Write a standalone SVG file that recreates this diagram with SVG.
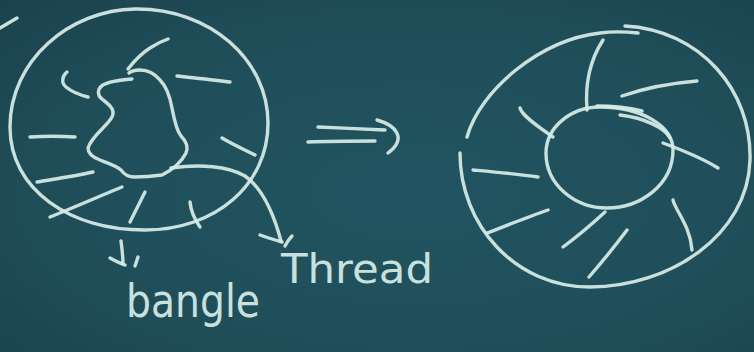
<svg xmlns="http://www.w3.org/2000/svg" width="754" height="352" viewBox="0 0 754 352">
<defs>
<radialGradient id="bg" cx="0.55" cy="0.55" r="0.8">
<stop offset="0" stop-color="#215461"/>
<stop offset="0.6" stop-color="#1f4e59"/>
<stop offset="1" stop-color="#1a414b"/>
</radialGradient>
<style>
.c{fill:none;stroke:#d6ece6;stroke-width:3.4;stroke-linecap:round;stroke-linejoin:round;opacity:0.93}
.t{fill:#d6ece6;font-family:"DejaVu Sans","Liberation Sans",sans-serif;opacity:0.93}
</style>
</defs>
<rect width="754" height="352" fill="url(#bg)"/>
<g id="bangle-before">
<path class="c" d="M0,28 L17,18"/>
<path class="c" d="M10,127 C10,60 70,10 135,9 C210,8 268,60 268,123 C268,185 215,230 145,230 C70,230 10,190 10,127"/>
<path class="c" d="M132,79 C120,80 108,82 103,85 C97,89 97,95 102,99 C108,104 114,108 113,114 C112,120 106,124 102,129 C96,135 90,142 88,148 C88,153 92,157 100,160 C108,163 117,166 121,170 C124,174 127,177 134,177 C145,177 155,176 162,175 C172,170 181,163 186,153 C189,146 186,141 181,136 C176,130 174,118 172,108 C170,97 166,86 160,80 C155,74 148,70 140,70 C135,70 131,71 129,73"/>
<path class="c" d="M128,69 C135,60 142,53 150,48 C156,44 162,41 168,39"/>
<path class="c" d="M67,72 C62,76 61,83 66,87 C72,92 80,95 88,97"/>
<path class="c" d="M177,76 C195,78 215,80 230,82"/>
<path class="c" d="M30,137 C45,136 60,136 75,137"/>
<path class="c" d="M222,138 C232,144 245,150 255,155"/>
<path class="c" d="M37,182 C55,179 75,176 93,172"/>
<path class="c" d="M50,217 C75,207 100,196 122,187"/>
<path class="c" d="M130,222 C135,212 140,202 145,192"/>
<path class="c" d="M190,202 C191,212 195,220 200,227"/>
</g>
<g id="connectors">
<path class="c" d="M171,168 C200,164 228,166 245,176 C262,188 274,215 281,241"/>
<path class="c" d="M260,235 C268,238 275,240 282,242"/>
<path class="c" d="M292,236 C289,239 287,242 285,246"/>
<path class="c" d="M121,241 C122,249 123,256 123,264"/>
<path class="c" d="M110,258 C115,261 120,263 125,265"/>
<path class="c" d="M138,257 C137,260 136,263 135,266"/>
<path class="c" d="M318,127 C340,128 365,129 385,130"/>
<path class="c" d="M308,142 C330,141 355,141 375,141"/>
<path class="c" d="M377,120 C395,125 408,138 388,153"/>
</g>
<g id="labels">
<text class="t" x="126" y="317" font-size="46" textLength="134" lengthAdjust="spacingAndGlyphs">bangle</text>
<text class="t" x="281" y="283" font-size="41" textLength="152" lengthAdjust="spacingAndGlyphs">Thread</text>
</g>
<g id="bangle-after">
<path class="c" d="M467,137 C480,90 540,40 600,33 C615,31 628,32 638,33"/>
<path class="c" d="M625,26 C700,30 752,90 750,160 C748,235 670,287 590,287 C515,287 460,225 460,153"/>
<path class="c" d="M546,153 C546,128 570,107 600,107 C640,107 673,125 673,150 C673,185 640,208 607,208 C575,208 546,185 546,153"/>
<path class="c" d="M597,106 C615,106 630,108 642,111"/>
<path class="c" d="M620,115 C645,118 665,128 670,138"/>
<path class="c" d="M603,40 C590,60 585,85 587,110"/>
<path class="c" d="M622,96 C645,88 672,83 697,81"/>
<path class="c" d="M520,108 C522,116 540,128 553,137"/>
<path class="c" d="M663,143 C682,150 702,158 718,168"/>
<path class="c" d="M473,170 C495,172 518,174 538,177"/>
<path class="c" d="M673,200 C675,210 690,225 692,250"/>
<path class="c" d="M487,233 C508,225 528,217 548,210"/>
<path class="c" d="M563,247 C578,236 592,224 605,212"/>
<path class="c" d="M589,277 C602,262 615,246 627,230"/>
</g>
</svg>
